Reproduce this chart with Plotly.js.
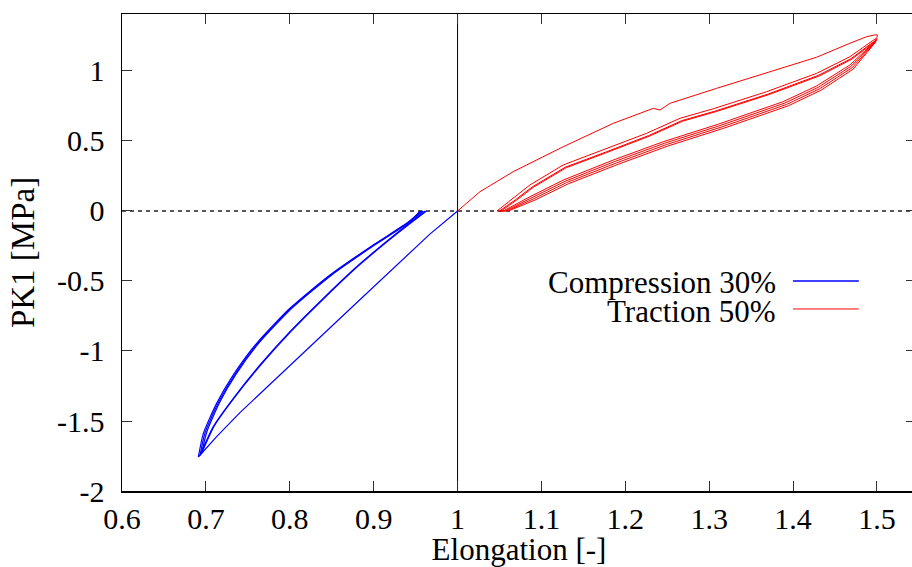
<!DOCTYPE html>
<html>
<head>
<meta charset="utf-8">
<script src="https://cdn.plot.ly/plotly-3.0.1.min.js"></script>
<style>
html,body{margin:0;padding:0;overflow:hidden;background:#fff;}
#chart{width:916px;height:567px;}
</style>
</head>
<body>
<div id="chart"></div>
<script>
// ---------- Data: Compression 30% (blue) ----------
const compLoadX   = [1.0, 0.967, 0.8718, 0.8002, 0.7406, 0.7128, 0.691];
const compLoadY   = [0, -0.165, -0.700, -1.102, -1.440, -1.612, -1.757];

const compUnload1X = [0.691, 0.697, 0.7128, 0.7327, 0.7605, 0.8002, 0.8479, 0.8995, 0.9393, 0.9572];
const compUnload1Y = [-1.757, -1.588, -1.374, -1.171, -0.945, -0.695, -0.457, -0.243, -0.088, 0];
const compReload1X = [0.9612, 0.9274, 0.8797, 0.8399, 0.8002, 0.7645, 0.7327, 0.7088, 0.693];
const compReload1Y = [0, -0.159, -0.398, -0.624, -0.862, -1.100, -1.338, -1.540, -1.745];
const compUnload2X = [0.693, 0.699, 0.7148, 0.7345, 0.7622, 0.8018, 0.8494, 0.9008, 0.9404, 0.9590];
const compUnload2Y = [-1.745, -1.584, -1.370, -1.168, -0.942, -0.692, -0.455, -0.241, -0.086, 0];
const compReload2X = [0.9630, 0.9292, 0.8815, 0.8416, 0.8018, 0.7660, 0.7340, 0.7100, 0.695];
const compReload2Y = [0, -0.156, -0.394, -0.620, -0.858, -1.096, -1.334, -1.536, -1.730];
const compUnload3X = [0.695, 0.701, 0.7165, 0.7360, 0.7638, 0.8033, 0.8508, 0.9020, 0.9415, 0.9555];
const compUnload3Y = [-1.730, -1.580, -1.366, -1.165, -0.939, -0.690, -0.453, -0.240, -0.085, 0];

// ---------- Data: Traction 50% (red) ----------
const tracLoadX = [1.0, 1.0148, 1.0268, 1.0664, 1.126, 1.1856, 1.2333, 1.2413, 1.2532, 1.3088, 1.3684, 1.428, 1.4677, 1.4876, 1.4975, 1.5005];
const tracLoadY = [0, 0.0786, 0.138, 0.281, 0.459, 0.626, 0.733, 0.721, 0.769, 0.876, 0.988, 1.098, 1.198, 1.245, 1.258, 1.258];

const tracUnload1X = [1.5005, 1.4995, 1.4677, 1.428, 1.3882, 1.3108, 1.2452, 1.1856, 1.126, 1.0863, 1.0545, 1.0470];
const tracUnload1Y = [1.258, 1.221, 1.043, 0.893, 0.781, 0.620, 0.495, 0.364, 0.221, 0.102, 0, 0];
const tracReload1X = [1.0470, 1.0664, 1.0863, 1.126, 1.1737, 1.2254, 1.2651, 1.3048, 1.3684, 1.428, 1.4677, 1.4985];
const tracReload1Y = [0, 0.091, 0.186, 0.329, 0.436, 0.555, 0.662, 0.730, 0.852, 0.983, 1.102, 1.232];
const tracUnload2X = [1.4985, 1.4990, 1.4690, 1.4298, 1.3902, 1.3128, 1.2472, 1.1876, 1.128, 1.0883, 1.0565, 1.0500];
const tracUnload2Y = [1.232, 1.215, 1.033, 0.883, 0.771, 0.610, 0.485, 0.354, 0.212, 0.094, 0, 0];
const tracReload2X = [1.0500, 1.0690, 1.0890, 1.1285, 1.1762, 1.2279, 1.2676, 1.3073, 1.3705, 1.4298, 1.4690, 1.4990];
const tracReload2Y = [0, 0.080, 0.172, 0.313, 0.420, 0.539, 0.646, 0.714, 0.836, 0.968, 1.088, 1.222];
const tracUnload3X = [1.4990, 1.4985, 1.4703, 1.4316, 1.3922, 1.3148, 1.2492, 1.1896, 1.130, 1.0903, 1.0585, 1.0520];
const tracUnload3Y = [1.222, 1.209, 1.023, 0.873, 0.761, 0.600, 0.475, 0.344, 0.203, 0.086, 0, 0];
const tracReload3X = [1.0520, 1.0700, 1.0900, 1.1295, 1.1772, 1.2289, 1.2686, 1.3083, 1.3715, 1.4310, 1.4700, 1.4985];
const tracReload3Y = [0, 0.076, 0.168, 0.309, 0.416, 0.535, 0.642, 0.710, 0.832, 0.964, 1.084, 1.215];
const tracUnload4X = [1.4985, 1.4980, 1.4716, 1.4334, 1.3942, 1.3168, 1.2512, 1.1916, 1.132, 1.0923, 1.0605];
const tracUnload4Y = [1.215, 1.203, 1.013, 0.863, 0.751, 0.590, 0.465, 0.334, 0.194, 0.078, 0];

// ---------- Axis ticks ----------
const xTickVals = [0.6, 0.7, 0.8, 0.9, 1.0, 1.1, 1.2, 1.3, 1.4, 1.5];
const xTickText = ["0.6", "0.7", "0.8", "0.9", "1", "1.1", "1.2", "1.3", "1.4", "1.5"];
const yTickVals = [-2, -1.5, -1, -0.5, 0, 0.5, 1];
const yTickText = ["-2", "-1.5", "-1", "-0.5", "0", "0.5", "1"];

const seriesNames = ["Compression 30%", "Traction 50%"];
const seriesColors = ["#0000ff", "#ff0000"];

const FONT = "Liberation Serif, Tinos, DejaVu Serif, serif";

const compPasses = [
  [compLoadX, compLoadY, 'linear'], [compUnload1X, compUnload1Y, 'spline'], [compReload1X, compReload1Y, 'spline'],
  [compUnload2X, compUnload2Y, 'spline'], [compReload2X, compReload2Y, 'spline'], [compUnload3X, compUnload3Y, 'spline']
];
const tracPasses = [
  [tracLoadX, tracLoadY], [tracUnload1X, tracUnload1Y], [tracReload1X, tracReload1Y],
  [tracUnload2X, tracUnload2Y], [tracReload2X, tracReload2Y], [tracUnload3X, tracUnload3Y],
  [tracReload3X, tracReload3Y], [tracUnload4X, tracUnload4Y]
];

const traces = [];
compPasses.forEach(p => traces.push({
  x: p[0], y: p[1], type: 'scatter', mode: 'lines', name: seriesNames[0],
  legendgroup: 'c', showlegend: false,
  line: {color: seriesColors[0], width: 1.2, shape: p[2], smoothing: 0.6}
}));
tracPasses.forEach(p => traces.push({
  x: p[0], y: p[1], type: 'scatter', mode: 'lines', name: seriesNames[1],
  legendgroup: 't', showlegend: false,
  line: {color: seriesColors[1], width: 1}
}));

const layout = {
  width: 916, height: 567,
  margin: {l: 122, r: 0, t: 14, b: 76},
  paper_bgcolor: '#fff', plot_bgcolor: '#fff',
  font: {family: FONT, size: 30, color: '#000'},
  showlegend: false,
  xaxis: {
    range: [0.6, 1.5465], tickmode: 'array', tickvals: xTickVals, ticktext: xTickText,
    ticks: 'inside', ticklen: 10, tickwidth: 1, tickcolor: '#333',
    showline: true, linecolor: '#000', linewidth: 1.5, mirror: 'allticks',
    showgrid: false, zeroline: false,
    tickfont: {family: FONT, size: 30, color: '#000'},
    title: {text: 'Elongation [-]', font: {family: FONT, size: 31, color: '#000'}, standoff: 7}
  },
  yaxis: {
    range: [-2, 1.407], tickmode: 'array', tickvals: yTickVals, ticktext: yTickText,
    ticks: 'inside', ticklen: 10, tickwidth: 1, tickcolor: '#333',
    showline: true, linecolor: '#000', linewidth: 1.5, mirror: 'allticks',
    showgrid: false, zeroline: false, ticklabelstandoff: 10,
    tickfont: {family: FONT, size: 30, color: '#000'},
    title: {text: 'PK1 [MPa]', font: {family: FONT, size: 33, color: '#000'}, standoff: 12}
  },
  shapes: [
    {type: 'line', xref: 'paper', x0: 0, x1: 1, yref: 'y', y0: 0, y1: 0,
     line: {color: '#222', width: 1.5, dash: '4px,4px'}, layer: 'below'},
    {type: 'line', xref: 'x', x0: 1, x1: 1, yref: 'paper', y0: 0, y1: 1,
     line: {color: '#000', width: 1}, layer: 'below'},
    {type: 'line', xref: 'paper', x0: 0.845, x1: 0.928, yref: 'paper', y0: 0.4403, y1: 0.4403,
     line: {color: seriesColors[0], width: 1.5}},
    {type: 'line', xref: 'paper', x0: 0.845, x1: 0.928, yref: 'paper', y0: 0.3816, y1: 0.3816,
     line: {color: seriesColors[1], width: 1}}
  ],
  annotations: [
    {xref: 'paper', yref: 'paper', x: 0.8262, y: 0.437, xanchor: 'right', yanchor: 'middle',
     text: seriesNames[0], showarrow: false, font: {family: FONT, size: 31, color: '#000'}},
    {xref: 'paper', yref: 'paper', x: 0.8262, y: 0.3764, xanchor: 'right', yanchor: 'middle',
     text: seriesNames[1], showarrow: false, font: {family: FONT, size: 31, color: '#000'}}
  ]
};

Plotly.newPlot('chart', traces, layout, {staticPlot: true, displayModeBar: false});
</script>
</body>
</html>
